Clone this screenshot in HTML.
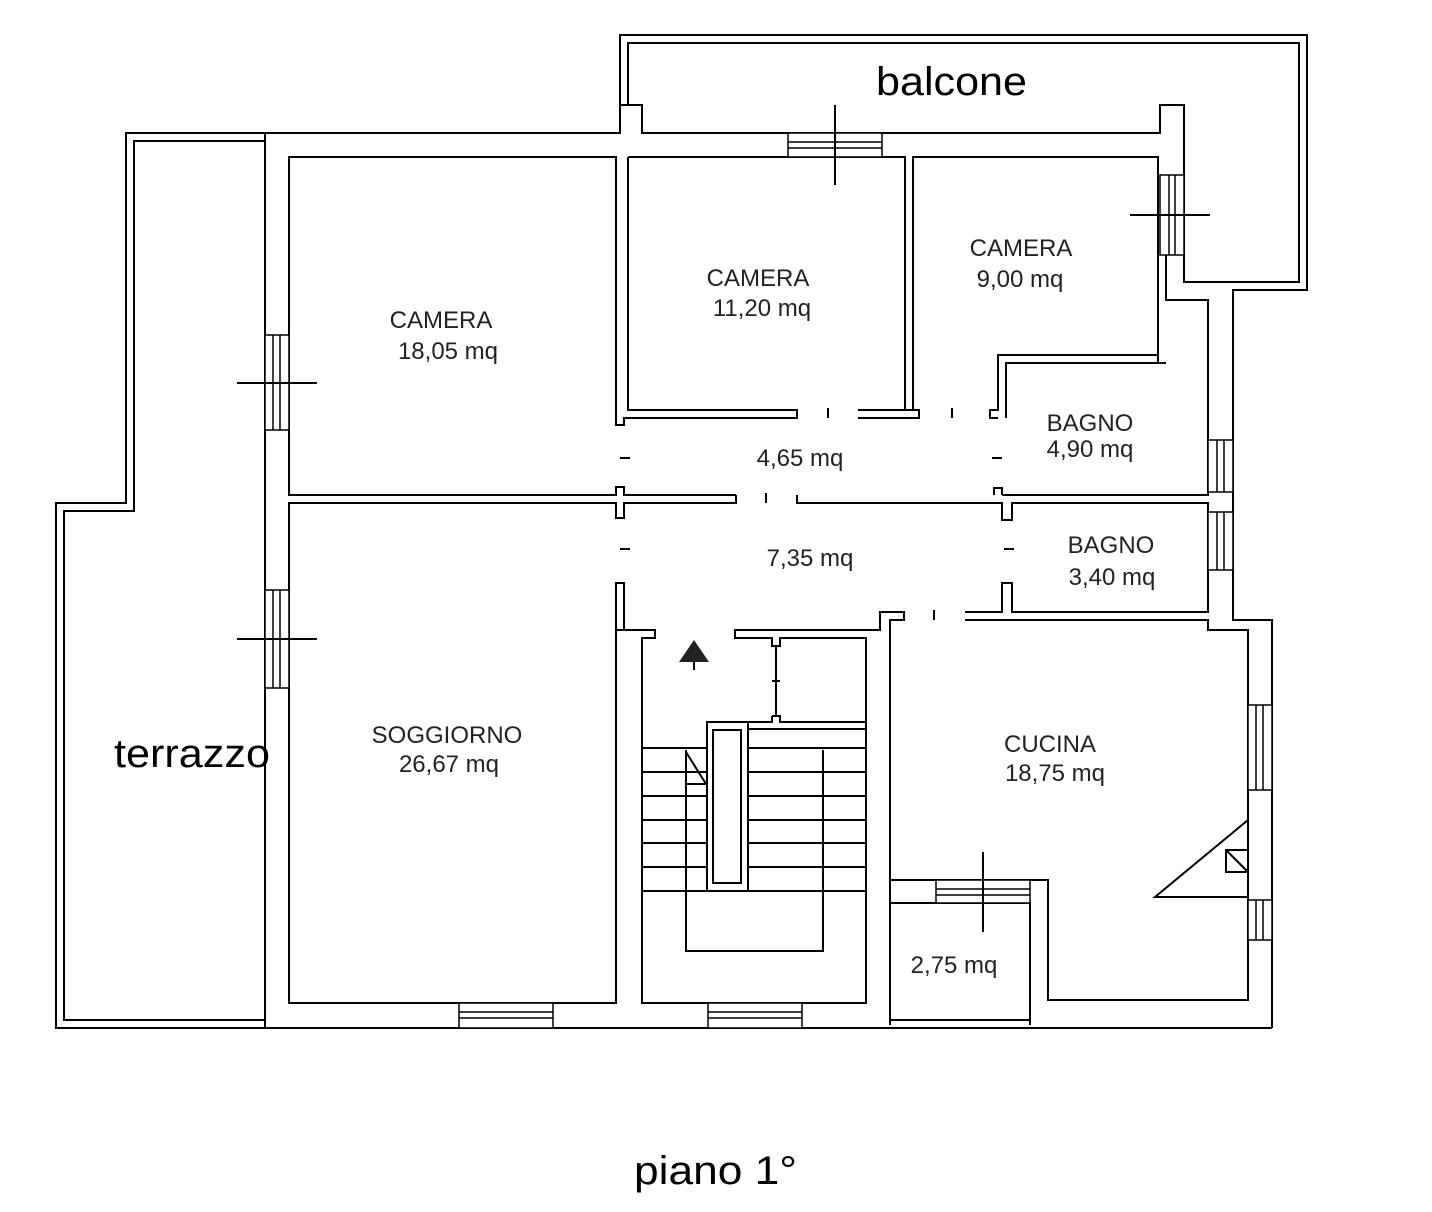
<!DOCTYPE html>
<html><head><meta charset="utf-8"><style>
html,body{margin:0;padding:0;background:#fff;}
svg{display:block;}
.t{font-family:"Liberation Sans",sans-serif;font-size:24px;fill:#222;text-anchor:middle;}
.b{font-family:"Liberation Sans",sans-serif;font-size:40px;fill:#000;}
</style></head><body>
<svg width="1432" height="1212" viewBox="0 0 1432 1212" xmlns="http://www.w3.org/2000/svg">
<g fill="none" stroke="#000" stroke-width="2">
<polyline points="265,133 126,133 126,503 56,503 56,1028 265,1028"/>
<polyline points="265,141 134,141 134,511 64,511 64,1020 265,1020"/>
<polyline points="620,105 620,35 1307,35 1307,290 1233,290 1233,612"/>
<polyline points="628,105 628,43 1299,43 1299,282 1184,282 1184,105 1160,105 1160,133 642,133 642,105 620,105 620,133 265,133"/>
<line x1="265" y1="133" x2="265" y2="1028"/>
<line x1="265" y1="1028" x2="1272" y2="1028"/>
<polyline points="1233,612 1233,620 1272,620 1272,1028"/>
<polyline points="616,410 616,157 289,157 289,495 616,495 616,487 624,487 624,495 736,495"/>
<polyline points="628,157 905,157 905,410 913,410 913,157 1158,157 1158,355 998,355 998,410 990,410 990,418 998,418"/>
<polyline points="628,157 628,410 797,410 797,418 624,418 624,425 616,425 616,410"/>
<polyline points="858,410 905,410"/>
<polyline points="858,418 919,418 919,410 913,410"/>
<polyline points="1166,255 1166,300 1208,300 1208,495 1002,495"/>
<polyline points="1184,282 1184,255"/>
<polyline points="1006,418 1006,363 1166,363"/>
<polyline points="1158,355 1158,363"/>
<polyline points="797,495 797,503 1002,503 1002,520 1012,520 1012,503 1208,503 1208,612 1012,612 1012,583 1002,583 1002,612 965,612"/>
<polyline points="736,495 736,503 624,503 624,518 616,518 616,503 289,503 289,1003 616,1003 616,583 624,583 624,630"/>
<polyline points="1002,495 1002,488 994,488 994,495"/>
<polyline points="624,630 655,630 655,638 642,638 642,1003 866,1003 866,638 780,638 780,646 772,646 772,638 735,638 735,630 880,630 880,612 904,612 904,620 890,620 890,1025"/>
<line x1="624" y1="630" x2="616" y2="630"/>
<polyline points="965,620 1208,620 1208,630 1248,630 1248,1000 1048,1000 1048,880 890,880"/>
<polyline points="890,903 1030,903 1030,1025"/>
<line x1="890" y1="1020" x2="1030" y2="1020"/>
<line x1="776" y1="646" x2="776" y2="716"/>
<polyline points="772,716 780,716 780,722 866,722"/>
<polyline points="642,748 707,748 707,722 772,722 772,716"/>
<rect x="707" y="722" width="41" height="169"/>
<rect x="713" y="730" width="28" height="153"/>
<polyline points="748,729 866,729"/>
<g>
<line x1="642" y1="772" x2="707" y2="772"/><line x1="748" y1="772" x2="866" y2="772"/>
<line x1="642" y1="796" x2="707" y2="796"/><line x1="748" y1="796" x2="866" y2="796"/>
<line x1="642" y1="820" x2="707" y2="820"/><line x1="748" y1="820" x2="866" y2="820"/>
<line x1="642" y1="843" x2="707" y2="843"/><line x1="748" y1="843" x2="866" y2="843"/>
<line x1="642" y1="867" x2="707" y2="867"/><line x1="748" y1="867" x2="866" y2="867"/>
<line x1="642" y1="891" x2="866" y2="891"/>
<line x1="748" y1="748" x2="866" y2="748"/>
</g>
<polyline points="686,750 686,951 823,951 823,750"/>
<polyline points="686,752 706,784 686,784"/>
<polyline points="1248,820 1155,897 1248,897"/>
<rect x="1226" y="850" width="22" height="22"/><line x1="1226" y1="850" x2="1248" y2="872"/>
<g stroke-width="1.5">
<rect x="788" y="133" width="94" height="24" fill="#fff"/><line x1="788" y1="142" x2="882" y2="142"/><line x1="788" y1="148" x2="882" y2="148"/>
<rect x="1160" y="175" width="24" height="80" fill="#fff"/><line x1="1169" y1="175" x2="1169" y2="255"/><line x1="1175" y1="175" x2="1175" y2="255"/>
<rect x="265" y="335" width="24" height="95" fill="#fff"/><line x1="273" y1="335" x2="273" y2="430"/><line x1="280" y1="335" x2="280" y2="430"/>
<rect x="265" y="590" width="24" height="98" fill="#fff"/><line x1="273" y1="590" x2="273" y2="688"/><line x1="280" y1="590" x2="280" y2="688"/>
<rect x="459" y="1003" width="94" height="25" fill="#fff"/><line x1="459" y1="1012" x2="553" y2="1012"/><line x1="459" y1="1018" x2="553" y2="1018"/>
<rect x="708" y="1003" width="94" height="25" fill="#fff"/><line x1="708" y1="1012" x2="802" y2="1012"/><line x1="708" y1="1018" x2="802" y2="1018"/>
<rect x="1208" y="440" width="25" height="52" fill="#fff"/><line x1="1217" y1="440" x2="1217" y2="492"/><line x1="1224" y1="440" x2="1224" y2="492"/>
<rect x="1208" y="512" width="25" height="58" fill="#fff"/><line x1="1217" y1="512" x2="1217" y2="570"/><line x1="1224" y1="512" x2="1224" y2="570"/>
<rect x="1248" y="705" width="24" height="85" fill="#fff"/><line x1="1256" y1="705" x2="1256" y2="790"/><line x1="1263" y1="705" x2="1263" y2="790"/>
<rect x="1248" y="900" width="24" height="40" fill="#fff"/><line x1="1256" y1="900" x2="1256" y2="940"/><line x1="1263" y1="900" x2="1263" y2="940"/>
<rect x="936" y="880" width="94" height="23" fill="#fff"/><line x1="936" y1="889" x2="1030" y2="889"/><line x1="936" y1="895" x2="1030" y2="895"/>
</g>
<line x1="835" y1="105" x2="835" y2="185"/>
<line x1="1130" y1="215" x2="1210" y2="215"/>
<line x1="237" y1="383" x2="317" y2="383"/>
<line x1="237" y1="639" x2="317" y2="639"/>
<line x1="983" y1="852" x2="983" y2="932"/>
<line x1="828" y1="408" x2="828" y2="418"/><line x1="952" y1="408" x2="952" y2="418"/>
<line x1="766" y1="493" x2="766" y2="503"/><line x1="934" y1="610" x2="934" y2="620"/>
<line x1="620" y1="458" x2="630" y2="458"/><line x1="992" y1="458" x2="1002" y2="458"/>
<line x1="620" y1="549" x2="630" y2="549"/><line x1="1004" y1="549" x2="1014" y2="549"/>
<line x1="772" y1="681" x2="780" y2="681"/>
<line x1="694" y1="660" x2="694" y2="670"/>
</g>
<polygon points="694,640 679,662 709,662" fill="#222"/>
<text class="t" x="441" y="328">CAMERA</text><text class="t" x="448" y="359">18,05 mq</text>
<text class="t" x="758" y="286">CAMERA</text><text class="t" x="762" y="316">11,20 mq</text>
<text class="t" x="1021" y="256">CAMERA</text><text class="t" x="1020" y="287">9,00 mq</text>
<text class="t" x="1090" y="431">BAGNO</text><text class="t" x="1090" y="457">4,90 mq</text>
<text class="t" x="800" y="466">4,65 mq</text>
<text class="t" x="1111" y="553">BAGNO</text><text class="t" x="1112" y="585">3,40 mq</text>
<text class="t" x="810" y="566">7,35 mq</text>
<text class="t" x="447" y="743">SOGGIORNO</text><text class="t" x="449" y="772">26,67 mq</text>
<text class="t" x="1050" y="752">CUCINA</text><text class="t" x="1055" y="781">18,75 mq</text>
<text class="t" x="954" y="973">2,75 mq</text>
<text class="b" x="876" y="95" textLength="151" lengthAdjust="spacingAndGlyphs">balcone</text>
<text class="b" x="114" y="767" textLength="156" lengthAdjust="spacingAndGlyphs">terrazzo</text>
<text class="b" x="634" y="1184" textLength="163" lengthAdjust="spacingAndGlyphs">piano 1°</text>
</svg>
</body></html>
